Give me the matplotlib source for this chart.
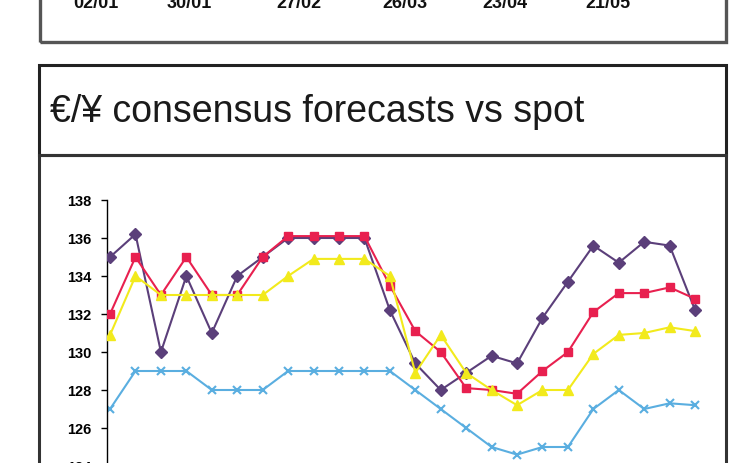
import matplotlib
matplotlib.use("Agg")
import matplotlib.pyplot as plt
from matplotlib.patches import Rectangle
from matplotlib import font_manager

# ---------------- data ----------------
y_ticks = [124, 126, 128, 130, 132, 134, 136, 138]
top_labels = ["02/01", "30/01", "27/02", "26/03", "23/04", "21/05"]
title = "€/¥ consensus forecasts vs spot"

purple = [135, 136.2, 130, 134, 131, 134, 135, 136, 136, 136, 136, 132.2,
          129.4, 128, 128.9, 129.8, 129.4, 131.8, 133.7, 135.6, 134.7, 135.8, 135.6, 132.2]
red = [132, 135, 133, 135, 133, 133, 135, 136.1, 136.1, 136.1, 136.1, 133.5,
       131.1, 130, 128.1, 128, 127.8, 129, 130, 132.1, 133.1, 133.1, 133.4, 132.8]
yellow = [130.9, 134, 133, 133, 133, 133, 133, 134, 134.9, 134.9, 134.9, 134,
          128.9, 130.9, 128.9, 128, 127.2, 128, 128, 129.9, 130.9, 131, 131.3, 131.1]
blue = [127, 129, 129, 129, 128, 128, 128, 129, 129, 129, 129, 129,
        128, 127, 126, 125, 124.6, 125, 125, 127, 128, 127, 127.3, 127.2]

W, H = 750, 463
fig = plt.figure(figsize=(W / 100, H / 100), dpi=100)
fig.patch.set_facecolor("white")

avail = {f.name for f in font_manager.fontManager.ttflist}
narrow = "Liberation Sans Narrow" if "Liberation Sans Narrow" in avail else "Liberation Sans"
fams = [narrow, "DejaVu Sans"]


def px_rect(x0, y0, x1, y1, **kw):
    r = Rectangle((x0 / W, 1 - y1 / H), (x1 - x0) / W, (y1 - y0) / H,
                  transform=fig.transFigure, fill=False, **kw)
    fig.add_artist(r)


# top (previous) chart box, mostly cropped
px_rect(40, -20, 726, 42, edgecolor="#555555", linewidth=2.4)
for lab, cx in zip(top_labels, [96, 189, 299, 405, 505, 608]):
    fig.text(cx / W, 1 - 4 / H, lab, ha="center", va="center",
             fontsize=13, fontweight="bold", family=fams, color="#111111")

# title box and chart box
px_rect(39, 65, 726, 155, edgecolor="#222222", linewidth=2.2)
px_rect(39, 155, 726, 520, edgecolor="#333333", linewidth=2.2)
fig.text(50 / W, 1 - 112 / H, title, ha="left", va="center",
         fontsize=27, family=fams, color="#1a1a1a")

# plot axes
ax = fig.add_axes([107 / W, 1 - 504 / H, 611 / W, (504 - 200) / H])
ax.set_facecolor("none")
x = list(range(len(purple)))

ax.plot(x, blue, color="#5aaee0", marker="x", markersize=6, mew=1.5, lw=1.5, zorder=2)
ax.plot(x, purple, color="#5b3f7a", marker="D", markersize=6, lw=1.5, zorder=3)
ax.plot(x, red, color="#e8204f", marker="s", markersize=6, lw=1.5, zorder=4)
ax.plot(x, yellow, color="#f2ea1c", marker="^", markersize=7, lw=1.5, zorder=5)

ax.set_xlim(-0.12, 23.9)
ax.set_ylim(122, 138)
ax.set_yticks(y_ticks)
ax.set_yticklabels([str(v) for v in y_ticks], fontsize=10.5, fontweight="bold", family=fams)
ax.tick_params(axis="y", direction="out", length=4, width=1, pad=7)
ax.set_xticks([])
for s in ["top", "right", "bottom"]:
    ax.spines[s].set_visible(False)
ax.spines["left"].set_linewidth(1)

fig.savefig("out.png", dpi=100, facecolor="white")
